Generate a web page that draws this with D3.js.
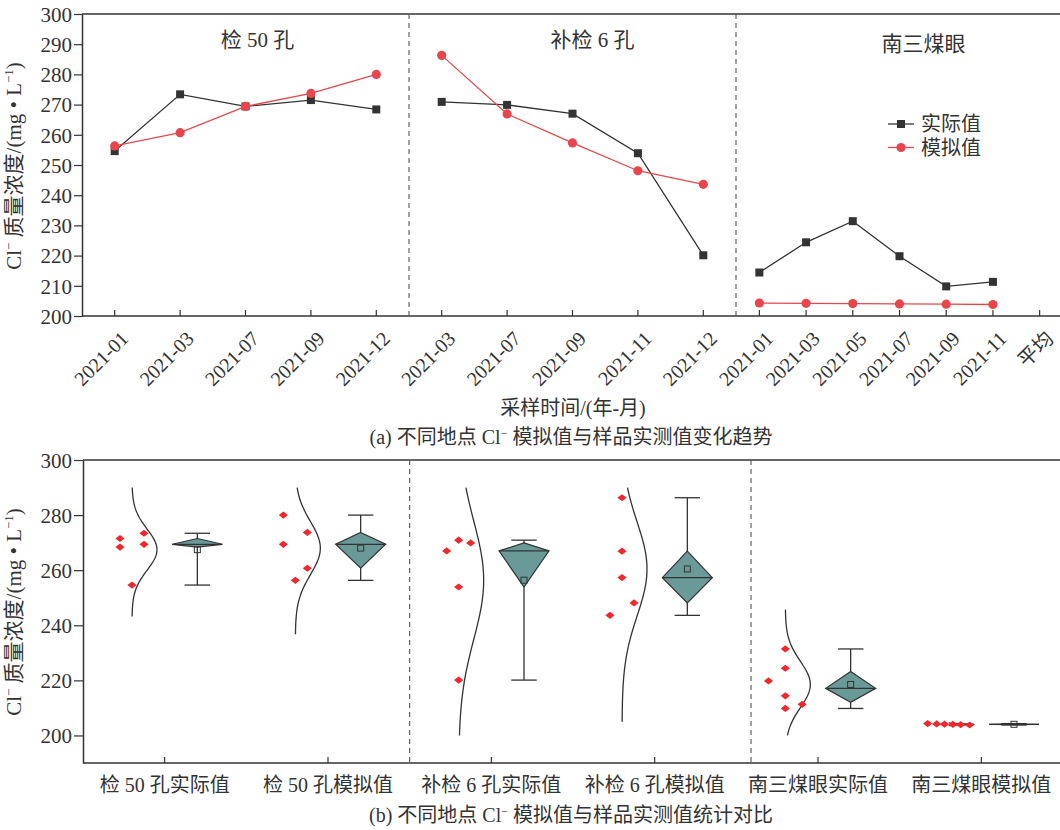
<!DOCTYPE html>
<html>
<head>
<meta charset="utf-8">
<script src="https://cdn.jsdelivr.net/npm/d3@7"></script>
<style>
  body { margin: 0; background: #fff; }
  svg { display: block; }
  text { font-family: "Liberation Serif", "Times New Roman", "Noto Sans CJK SC", serif; fill: #333; }
</style>
</head>
<body>
<svg id="chart" width="1060" height="830"></svg>
<script>
// ---- sampling sites and months ----
const sites = ["检 50 孔", "补检 6 孔", "南三煤眼"];
const monthsJ50 = ["2021-01", "2021-03", "2021-07", "2021-09", "2021-12"];
const monthsB6 = ["2021-03", "2021-07", "2021-09", "2021-11", "2021-12"];
const monthsN3 = ["2021-01", "2021-03", "2021-05", "2021-07", "2021-09", "2021-11", "平均"];

// ---- Cl- concentration, mg/L ----
const actualJ50 = [254.6, 273.4, 269.4, 271.5, 268.4];
const simJ50    = [256.3, 260.7, 269.4, 273.7, 280.0];
const actualB6  = [270.9, 269.9, 267.0, 253.9, 220.1];
const simB6     = [286.3, 266.9, 257.3, 248.1, 243.6];
const actualN3  = [214.4, 224.4, 231.4, 219.8, 209.8, 211.3];
const simN3     = [204.3, 204.2, 204.1, 204.0, 203.9, 203.8];

// ---- statistics panel categories ----
const statCategories = ["检 50 孔实际值", "检 50 孔模拟值", "补检 6 孔实际值", "补检 6 孔模拟值", "南三煤眼实际值", "南三煤眼模拟值"];
// column-scatter slot of each sample (spread of overlapping points)
const slotsJ50A = [0, 1, 1, -1, -1];
const slotsJ50S = [0, 1, -1, 1, -1];
const slotsB6A  = [0, 1, -1, 0, 0];
const slotsB6S  = [0, 0, 0, 1, -1];
const slotsN3A  = [0, 0, 0, -1.4, 0, 1.4];
const slotsN3S  = [-1.75, -1, -0.35, 0.35, 1, 1.75];

const yTicksA = d3.range(200, 301, 10);
const yTicksB = d3.range(200, 301, 20);

const INK = "#333";
const RED = "#e8464c";
const DOT = "#f2262b";
const TEAL = "#6a9a98";

const svg = d3.select("#chart");

function clTitle(sel, x, y) {
  // Cl⁻ 质量浓度/(mg • L⁻¹), rotated
  const t = sel.append("text")
    .attr("transform", `translate(${x},${y}) rotate(-90)`)
    .attr("text-anchor", "middle")
    .style("font-size", "21px");
  t.append("tspan").text("Cl");
  t.append("tspan").attr("dy", -8).style("font-size", "13px").text("−");
  t.append("tspan").attr("dy", 8).text(" 质量浓度/(mg • L");
  t.append("tspan").attr("dy", -8).style("font-size", "13px").text("−1");
  t.append("tspan").attr("dy", 8).text(")");
}

function caption(sel, x, y, lead, tail) {
  const t = sel.append("text")
    .attr("x", x).attr("y", y)
    .attr("text-anchor", "middle")
    .style("font-size", "20px");
  t.append("tspan").text(lead + " Cl");
  t.append("tspan").attr("dy", -7).style("font-size", "12px").text("−");
  t.append("tspan").attr("dy", 7).text(" " + tail);
}

// =================== (a) trend chart ===================
const A = { left: 82, right: 1063, top: 14, bottom: 316 };
const yA = d3.scaleLinear().domain([200, 300]).range([A.bottom, A.top]);
const panelX = d3.scaleLinear().domain([0, 3]).range([A.left, A.right]);

const panels = [
  { name: sites[0], months: monthsJ50, actual: actualJ50, sim: simJ50, labelShift: 12, labelY: 47 },
  { name: sites[1], months: monthsB6,  actual: actualB6,  sim: simB6,  labelShift: 20, labelY: 47 },
  { name: sites[2], months: monthsN3,  actual: actualN3,  sim: simN3,  labelShift: 24, labelY: 51 }
];

const gA = svg.append("g");

// frame: left axis, bottom axis, top border
gA.append("line").attr("x1", A.left).attr("x2", A.right).attr("y1", A.top).attr("y2", A.top)
  .attr("stroke", INK).attr("stroke-width", 1.5);

const yAxisA = gA.append("g").attr("transform", `translate(${A.left},0)`)
  .call(d3.axisLeft(yA).tickValues(yTicksA).tickSize(8).tickSizeOuter(0));
yAxisA.select(".domain").attr("stroke", INK).attr("stroke-width", 1.5);
yAxisA.selectAll(".tick line").attr("stroke", INK).attr("stroke-width", 1.2);
yAxisA.selectAll(".tick text").attr("x", -10).attr("dy", "0.35em")
  .style("font-size", "21px").style("font-family", "Liberation Serif").attr("fill", INK);

gA.append("line").attr("x1", A.left).attr("x2", A.right).attr("y1", A.bottom).attr("y2", A.bottom)
  .attr("stroke", INK).attr("stroke-width", 1.5);

// panel separators
[1, 2].forEach(k => {
  gA.append("line")
    .attr("x1", panelX(k)).attr("x2", panelX(k))
    .attr("y1", A.top).attr("y2", A.bottom)
    .attr("stroke", "#555").attr("stroke-width", 1.1).attr("stroke-dasharray", "5,4");
});

panels.forEach((p, i) => {
  const x = d3.scalePoint().domain(p.months).range([panelX(i), panelX(i + 1)]).padding(0.5);

  // inward ticks and rotated month labels
  const tg = gA.append("g").selectAll("g").data(p.months).join("g")
    .attr("transform", d => `translate(${x(d)},${A.bottom})`);
  tg.append("line").attr("y1", 0).attr("y2", -6).attr("stroke", INK).attr("stroke-width", 1.2);
  tg.append("text")
    .attr("transform", "translate(10,19) rotate(-45)")
    .attr("text-anchor", "end")
    .attr("dy", "0.35em")
    .style("font-size", "20px")
    .text(d => d);

  // site label
  gA.append("text")
    .attr("x", (panelX(i) + panelX(i + 1)) / 2 + p.labelShift)
    .attr("y", p.labelY)
    .attr("text-anchor", "middle")
    .style("font-size", "21px")
    .text(p.name);

  const line = d3.line().x((d, j) => x(p.months[j])).y(d => yA(d));

  gA.append("path").attr("d", line(p.actual)).attr("fill", "none")
    .attr("stroke", INK).attr("stroke-width", 1.3);
  gA.append("path").attr("d", line(p.sim)).attr("fill", "none")
    .attr("stroke", RED).attr("stroke-width", 1.3);

  gA.append("g").selectAll("rect").data(p.actual).join("rect")
    .attr("x", (d, j) => x(p.months[j]) - 4).attr("y", d => yA(d) - 4)
    .attr("width", 8).attr("height", 8).attr("fill", INK);
  gA.append("g").selectAll("circle").data(p.sim).join("circle")
    .attr("cx", (d, j) => x(p.months[j])).attr("cy", d => yA(d))
    .attr("r", 4.6).attr("fill", RED);
});

// legend
const legend = gA.append("g").attr("transform", "translate(888,124)");
[{ label: "实际值", color: INK, shape: "square" }, { label: "模拟值", color: RED, shape: "circle" }]
  .forEach((d, k) => {
    const row = legend.append("g").attr("transform", `translate(0,${k * 23.5})`);
    row.append("line").attr("x1", 0).attr("x2", 26).attr("stroke", d.color).attr("stroke-width", 1.3);
    if (d.shape === "square") row.append("rect").attr("x", 9).attr("y", -4).attr("width", 8).attr("height", 8).attr("fill", d.color);
    else row.append("circle").attr("cx", 13).attr("r", 4.6).attr("fill", d.color);
    row.append("text").attr("x", 33).attr("dy", "0.36em").style("font-size", "20px").text(d.label);
  });

// axis title + caption
clTitle(gA, 21, 166);
gA.append("text").attr("x", 573).attr("y", 415).attr("text-anchor", "middle")
  .style("font-size", "20px").text("采样时间/(年-月)");
caption(gA, 571, 444, "(a) 不同地点", "模拟值与样品实测值变化趋势");

// =================== (b) statistics chart ===================
const B = { left: 83, right: 1063, top: 460, bottom: 763 };
const yB = d3.scaleLinear().domain([190, 300]).range([B.bottom, B.top]);
const xB = d3.scaleBand().domain(statCategories).range([B.left, B.right]);
const bw = xB.bandwidth();
const side = d3.scalePoint().domain(["dist", "box"]).range([-bw * 0.2, bw * 0.2]);
const slotStep = 12;
const curveAmp = bw * 0.153;
const boxHalf = bw * 0.153;
const capHalf = bw * 0.078;
const curveClip = [200, 290];

const groups = [
  { name: statCategories[0], values: actualJ50, slots: slotsJ50A },
  { name: statCategories[1], values: simJ50,    slots: slotsJ50S },
  { name: statCategories[2], values: actualB6,  slots: slotsB6A },
  { name: statCategories[3], values: simB6,     slots: slotsB6S },
  { name: statCategories[4], values: actualN3,  slots: slotsN3A },
  { name: statCategories[5], values: simN3,     slots: slotsN3S }
];

const gB = svg.append("g");

gB.append("line").attr("x1", B.left).attr("x2", B.right).attr("y1", B.top).attr("y2", B.top)
  .attr("stroke", INK).attr("stroke-width", 1.5);

const yAxisB = gB.append("g").attr("transform", `translate(${B.left},0)`)
  .call(d3.axisLeft(yB).tickValues(yTicksB).tickSize(9).tickSizeOuter(0));
yAxisB.select(".domain").attr("stroke", INK).attr("stroke-width", 1.5);
yAxisB.selectAll(".tick line").attr("stroke", INK).attr("stroke-width", 1.2);
yAxisB.selectAll(".tick text").attr("x", -11).attr("dy", "0.35em")
  .style("font-size", "21px").attr("fill", INK);

gB.append("line").attr("x1", B.left).attr("x2", B.right).attr("y1", B.bottom).attr("y2", B.bottom)
  .attr("stroke", INK).attr("stroke-width", 1.5);

// group separators (in band units)
[2, 4.09].forEach(u => {
  const xx = B.left + u * bw;
  gB.append("line").attr("x1", xx).attr("x2", xx).attr("y1", B.top).attr("y2", B.bottom)
    .attr("stroke", "#555").attr("stroke-width", 1.1).attr("stroke-dasharray", "5,4");
});

// category ticks + labels
const ct = gB.append("g").selectAll("g").data(statCategories).join("g")
  .attr("transform", d => `translate(${xB(d) + bw / 2},${B.bottom})`);
ct.append("line").attr("y1", 0).attr("y2", -6).attr("stroke", INK).attr("stroke-width", 1.2);
ct.append("text").attr("y", 29).attr("text-anchor", "middle").style("font-size", "20px").text(d => d);

groups.forEach(g => {
  const c = xB(g.name) + bw / 2;
  const sorted = g.values.slice().sort(d3.ascending);
  const mean = d3.mean(sorted);
  const sd = d3.deviation(sorted);
  const q1 = d3.quantile(sorted, 0.25);
  const med = d3.quantile(sorted, 0.5);
  const q3 = d3.quantile(sorted, 0.75);
  const lo = d3.min(sorted), hi = d3.max(sorted);

  // normal distribution curve
  const base = c + side("dist");
  const vLo = Math.max(curveClip[0], mean - 3.26 * sd);
  const vHi = Math.min(curveClip[1], mean + 3.26 * sd);
  const pts = d3.range(0, 101).map(k => {
    const v = vLo + (vHi - vLo) * k / 100;
    const z = (v - mean) / sd;
    return [base + curveAmp * Math.exp(-0.5 * z * z), yB(v)];
  });
  gB.append("path").attr("d", d3.line()(pts)).attr("fill", "none")
    .attr("stroke", INK).attr("stroke-width", 1.3);

  // samples
  gB.append("g").selectAll("path").data(g.values).join("path")
    .attr("transform", (d, j) => `translate(${base + g.slots[j] * slotStep},${yB(d)})`)
    .attr("d", "M0,-3.6L4.6,0L0,3.6L-4.6,0Z")
    .attr("fill", DOT);

  // diamond box with whiskers
  const bx = c + side("box");
  gB.append("line").attr("x1", bx).attr("x2", bx).attr("y1", yB(hi)).attr("y2", yB(lo))
    .attr("stroke", INK).attr("stroke-width", 1.3);
  [hi, lo].forEach(v => gB.append("line")
    .attr("x1", bx - capHalf).attr("x2", bx + capHalf).attr("y1", yB(v)).attr("y2", yB(v))
    .attr("stroke", INK).attr("stroke-width", 1.3));
  gB.append("path")
    .attr("d", d3.line()([[bx, yB(q3)], [bx + boxHalf, yB(med)], [bx, yB(q1)], [bx - boxHalf, yB(med)]]) + "Z")
    .attr("fill", TEAL).attr("stroke", INK).attr("stroke-width", 1.2).attr("stroke-linejoin", "miter");
  gB.append("line").attr("x1", bx - boxHalf).attr("x2", bx + boxHalf)
    .attr("y1", yB(med)).attr("y2", yB(med)).attr("stroke", INK).attr("stroke-width", 1.2);
  gB.append("rect").attr("x", bx - 3).attr("y", yB(mean) - 3).attr("width", 6).attr("height", 6)
    .attr("fill", "none").attr("stroke", INK).attr("stroke-width", 1);
});

clTitle(gB, 21, 612);
caption(gB, 571, 822, "(b) 不同地点", "模拟值与样品实测值统计对比");
</script>
</body>
</html>
